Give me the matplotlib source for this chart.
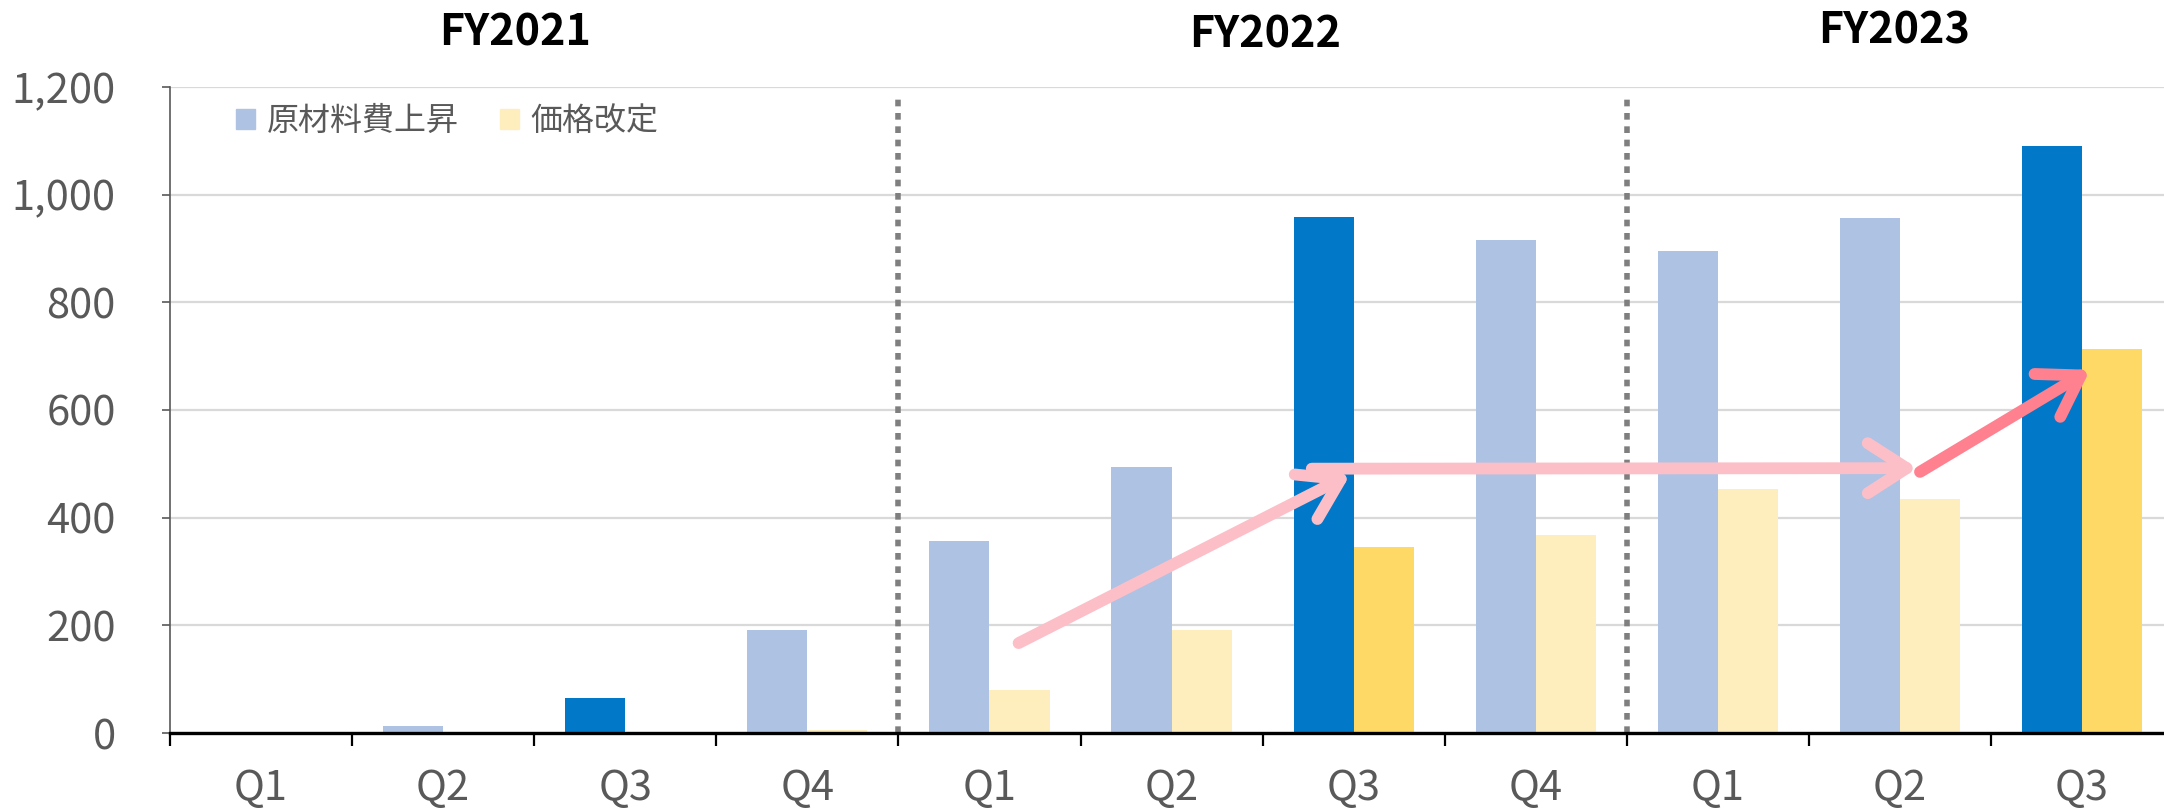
import numpy as np
import matplotlib
matplotlib.use("Agg")
import matplotlib.pyplot as plt
from matplotlib.patches import Patch
from matplotlib.ticker import FixedLocator, StrMethodFormatter

plt.rcParams['font.family'] = ['Noto Sans CJK JP', 'DejaVu Sans']

# data
quarters = ["Q1", "Q2", "Q3", "Q4", "Q1", "Q2", "Q3", "Q4", "Q1", "Q2", "Q3"]
years = ["FY2021", "FY2022", "FY2023"]
cost_up = [0, 13, 65, 191, 357, 495, 959, 916, 895, 957, 1091]      # 原材料費上昇
price_rev = [0, 0, 0, 6, 80, 192, 345, 368, 453, 435, 714]        # 価格改定
highlight = [2, 6, 10]   # Q3 bars drawn in strong colours
year_breaks = [3.5, 7.5]

# arrows (data coords): start, end, colour
arrows = [
    ((4.16, 167), (6.03, 489), "#FDBFC7"),
    ((5.77, 491), (9.15, 492), "#FDBFC7"),
    ((9.11, 485), (10.09, 684), "#FF8190"),
]

light_blue, dark_blue = "#AEC2E4", "#0179C8"
light_yel, dark_yel = "#FFEEBD", "#FED966"
txt_gray = "#595959"

W, H = 2164, 808
fig = plt.figure(figsize=(W/100, H/100), dpi=100)
ax = fig.add_axes([170/W, 1-733/H, (W-170)/W, (733-87)/H])

x = np.arange(len(quarters))
bw = 0.33
c1 = [dark_blue if i in highlight else light_blue for i in x]
c2 = [dark_yel if i in highlight else light_yel for i in x]
ax.bar(x - bw/2, cost_up, bw, color=c1, zorder=3)
ax.bar(x + bw/2, price_rev, bw, color=c2, zorder=3)

for xb in year_breaks:
    ax.plot([xb, xb], [0, 1178], color="#7F7F7F", lw=4,
            linestyle=(0, (1.2, 1.2)), zorder=4)

for (x0, y0), (x1, y1), col in arrows:
    ax.annotate("", xy=(x1, y1), xytext=(x0, y0),
                arrowprops=dict(arrowstyle="->,head_length=2.8,head_width=1.8",
                                mutation_scale=10, lw=8.5, color=col,
                                shrinkA=0, shrinkB=-7, capstyle="round",
                                joinstyle="round"),
                zorder=6)

ax.set_xlim(-0.5, -0.5 + (W-170)/182.1)
ax.set_ylim(0, 1200)
ax.set_yticks(np.arange(0, 1201, 200))
ax.yaxis.set_major_formatter(StrMethodFormatter("{x:,.0f}"))
ax.grid(axis="y", color="#D9D9D9", lw=1.6, zorder=0)
ax.set_axisbelow(True)

ax.set_xticks(x)
ax.set_xticklabels(quarters)
ax.xaxis.set_minor_locator(FixedLocator(np.arange(-0.5, 11, 1)))
ax.tick_params(axis="x", which="major", length=0, pad=25, labelsize=30, labelcolor=txt_gray)
ax.tick_params(axis="x", which="minor", length=9, width=1.6, color="black")
ax.tick_params(axis="y", length=6, width=1.2, color=txt_gray, pad=33,
               labelsize=30, labelcolor=txt_gray)

for s in ["top", "right"]:
    ax.spines[s].set_visible(False)
ax.spines["left"].set_color(txt_gray)
ax.spines["left"].set_linewidth(1.2)
ax.spines["bottom"].set_color("black")
ax.spines["bottom"].set_linewidth(2.4)
ax.spines["bottom"].set_zorder(5)

# year headers
for yr, fx, fy in zip(years, [515, 1265, 1894], [32, 35, 30]):
    fig.text(fx/W, 1-fy/H, yr, ha="center", va="center", fontsize=31,
             fontweight="bold", color="black")

handles = [Patch(color=light_blue, label="原材料費上昇"),
           Patch(color=light_yel, label="価格改定")]
fig.legend(handles=handles, loc="center left", bbox_to_anchor=(236/W, 1-121/H),
           frameon=False, fontsize=23, labelcolor=txt_gray, ncol=2,
           handlelength=0.6, handleheight=0.6, handletextpad=0.35,
           columnspacing=1.3, borderpad=0, borderaxespad=0)

fig.savefig("out.png", dpi=100)
